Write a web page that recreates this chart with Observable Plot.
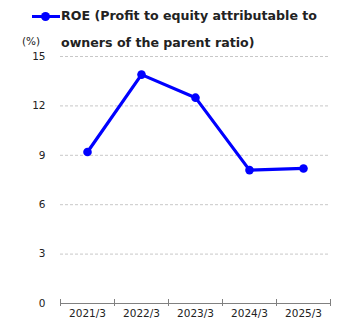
<!DOCTYPE html>
<html><head><meta charset="utf-8">
<script src="https://cdn.jsdelivr.net/npm/d3@7"></script>
<script src="https://cdn.jsdelivr.net/npm/@observablehq/plot@0.6"></script>
<style>
body{margin:0;background:#fff;font-family:"DejaVu Sans",Verdana,sans-serif;}
#wrap{position:relative;width:345px;height:330px;}
#legend{position:absolute;left:32px;top:2px;width:310px;font-weight:bold;font-size:12.6px;line-height:27px;color:#222;}
#legend .key{position:absolute;left:0;top:13px;width:28px;height:3px;background:#0000ff;}
#legend .key::after{content:"";position:absolute;left:9px;top:-3px;width:9px;height:9px;border-radius:50%;background:#0000ff;}
#legend .txt{margin-left:29px;}
#unit{position:absolute;left:22px;top:35px;font-size:10.5px;color:#222;}
</style></head>
<body><div id="wrap"><div id="chart"></div>
<div id="legend"><span class="key"></span><div class="txt">ROE (Profit to equity attributable to owners of the parent ratio)</div></div>
<div id="unit">(%)</div></div>
<script>
const years = ["2021/3","2022/3","2023/3","2024/3","2025/3"];
const roe = [9.2, 13.9, 12.5, 8.1, 8.2];
const yTicks = [0,3,6,9,12,15];

const data = years.map((y,i)=>({i: i+0.5, year: y, v: roe[i]}));
const edges = d3.range(years.length+1);

const chart = Plot.plot({
  width: 345, height: 330,
  marginLeft: 60, marginRight: 15, marginTop: 56, marginBottom: 27,
  style: {fontFamily: '"DejaVu Sans", Verdana, sans-serif', fontSize: "10.5px", color: "#222", background: "#fff"},
  x: {domain: [0, years.length], axis: null, label: null},
  y: {domain: [0, 15], axis: null, label: null},
  marks: [
    Plot.ruleY(yTicks.filter(d=>d>0), {stroke: "#c8c8c8", strokeDasharray: "3,2", strokeWidth: 1}),
    Plot.axisY({ticks: yTicks, tickSize: 0, tickPadding: 15, tickFormat: d=>d, fill: "#222", label: null}),
    Plot.ruleY([0], {stroke: "#808080", strokeWidth: 1.2}),
    Plot.axisX({ticks: edges, tickSize: 7, dy: -4, tickFormat: () => "", stroke: "#808080", label: null}),
    Plot.axisX({ticks: data.map(d=>d.i), tickSize: 0, tickPadding: 6, tickFormat: (d)=>years[Math.floor(d)], fill: "#222", label: null}),
    Plot.line(data, {x: "i", y: "v", stroke: "#0000ff", strokeWidth: 3.2, style: "filter: drop-shadow(1px 2px 1.5px rgba(0,0,0,0.4))"}),
    Plot.dot(data, {x: "i", y: "v", r: 4.3, fill: "#0000ff", stroke: "none"})
  ]
});
document.getElementById("chart").appendChild(chart);
</script></body></html>
